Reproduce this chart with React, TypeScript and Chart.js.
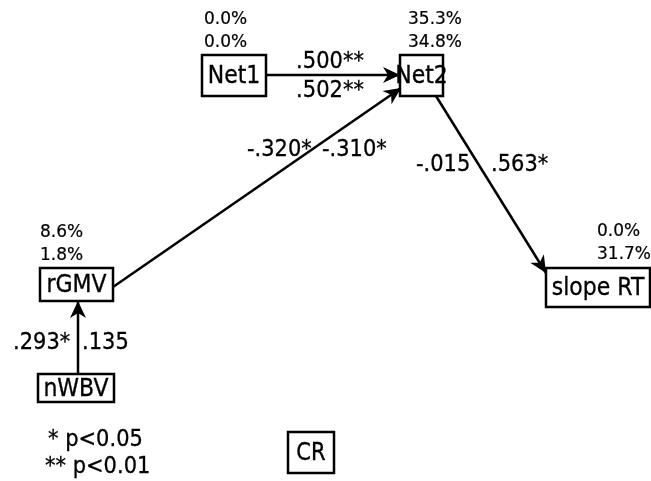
import React, { useEffect, useRef } from "react";
import { Chart, registerables } from "chart.js";

Chart.register(...registerables);

// ---- data ----
const nodeNames = ["Net1", "Net2", "rGMV", "nWBV", "slope RT"];
const r2First = ["0.0%", "35.3%", "8.6%", "", "0.0%"];
const r2Second = ["0.0%", "34.8%", "1.8%", "", "31.7%"];
const edgeFrom = ["Net1", "rGMV", "Net2", "nWBV"];
const edgeTo = ["Net2", "Net2", "slope RT", "rGMV"];
const coefFirst = [".500**", "-.320*", "-.015", ".293*"];
const coefSecond = [".502**", "-.310*", ".563*", ".135"];
const legendLines = ["* p<0.05", "** p<0.01"];
const groupLabel = "CR";

// ---- layout (pixel space of the figure) ----
const boxes: Record<string, [number, number, number, number]> = {
  Net1: [202, 55, 266, 96],
  Net2: [400, 55, 443, 96],
  rGMV: [40, 268, 113, 301],
  nWBV: [38, 374, 114, 402],
  "slope RT": [546, 268, 650, 307],
};
const edgeEnds: [number, number, number, number][] = [
  [266, 75, 400, 75],
  [113, 287, 401, 88],
  [436, 96, 546, 273],
  [78, 374, 78, 301],
];
const r2Pos: [number, number][] = [[204, 20], [408, 20], [40, 233], [0, 0], [597, 232]];
const coefPos: { a: [number, number, string]; b: [number, number, string] }[] = [
  { a: [330, 62, "center"], b: [330, 91, "center"] },
  { a: [247, 150, "left"], b: [322, 150, "left"] },
  { a: [416, 165, "left"], b: [491, 165, "left"] },
  { a: [13, 343, "left"], b: [82, 343, "left"] },
];
const legendPos: [number, number][] = [[48, 440], [45, 467]];
const crBox: [number, number, number, number] = [288, 432, 334, 473];

const FONT = "'DejaVu Sans', sans-serif";

function stretchText(ctx: CanvasRenderingContext2D, t: string, x: number, y: number, sy: number, bold = 0.3) {
  ctx.save();
  ctx.translate(x, y);
  ctx.scale(1, sy);
  ctx.fillText(t, 0, 0);
  if (bold > 0) {
    ctx.lineWidth = bold;
    ctx.strokeStyle = "#000";
    ctx.strokeText(t, 0, 0);
  }
  ctx.restore();
}

const diagramPlugin = {
  id: "diagram",
  afterDatasetsDraw(chart: any) {
    const ctx = chart.ctx as CanvasRenderingContext2D;
    const xs = chart.scales.x;
    const ys = chart.scales.y;
    const px = (v: number) => xs.getPixelForValue(v);
    const py = (v: number) => ys.getPixelForValue(v);
    ctx.save();
    ctx.strokeStyle = "#000";
    ctx.fillStyle = "#000";
    // boxes
    const drawBox = (b: [number, number, number, number], label: string, size: number) => {
      const x1 = px(b[0]), y1 = py(b[1]), x2 = px(b[2]), y2 = py(b[3]);
      ctx.fillStyle = "#fff";
      ctx.fillRect(x1, y1, x2 - x1, y2 - y1);
      ctx.lineWidth = 2.5;
      ctx.strokeStyle = "#000";
      ctx.strokeRect(x1, y1, x2 - x1, y2 - y1);
      ctx.fillStyle = "#000";
      ctx.font = `${size}px ${FONT}`;
      ctx.textAlign = "center";
      ctx.textBaseline = "middle";
      stretchText(ctx, label, (x1 + x2) / 2, (y1 + y2) / 2 + 1, 1.15);
    };
    nodeNames.forEach((n) => drawBox(boxes[n], n, 22));
    drawBox(crBox, groupLabel, 21);
    // arrowheads
    edgeEnds.forEach((e) => {
      const x1 = px(e[0]), y1 = py(e[1]), x2 = px(e[2]), y2 = py(e[3]);
      const ang = Math.atan2(y2 - y1, x2 - x1);
      const L = 17, W = 8, notch = 12;
      ctx.save();
      ctx.translate(x2, y2);
      ctx.rotate(ang);
      ctx.beginPath();
      ctx.moveTo(0, 0);
      ctx.lineTo(-L, -W);
      ctx.lineTo(-notch, 0);
      ctx.lineTo(-L, W);
      ctx.closePath();
      ctx.fillStyle = "#000";
      ctx.fill();
      ctx.restore();
    });
    // R2 labels
    ctx.font = `17px ${FONT}`;
    ctx.textAlign = "left";
    ctx.textBaseline = "middle";
    nodeNames.forEach((n, i) => {
      if (!r2First[i]) return;
      const p = r2Pos[i];
      stretchText(ctx, r2First[i], px(p[0]), py(p[1]), 1.0, 0.2);
      stretchText(ctx, r2Second[i], px(p[0]), py(p[1] + 23), 1.0, 0.2);
    });
    // coefficients
    ctx.font = `21px ${FONT}`;
    coefPos.forEach((c, i) => {
      ctx.textAlign = c.a[2] as CanvasTextAlign;
      stretchText(ctx, coefFirst[i], px(c.a[0]), py(c.a[1]), 1.1);
      ctx.textAlign = c.b[2] as CanvasTextAlign;
      stretchText(ctx, coefSecond[i], px(c.b[0]), py(c.b[1]), 1.1);
    });
    // legend
    ctx.font = `21px ${FONT}`;
    ctx.textAlign = "left";
    legendLines.forEach((t, i) => stretchText(ctx, t, px(legendPos[i][0]), py(legendPos[i][1]), 1.1));
    ctx.restore();
  },
};

export default function App() {
  const ref = useRef<HTMLCanvasElement | null>(null);
  useEffect(() => {
    if (!ref.current) return;
    const datasets = edgeFrom.map((f, i) => {
      const e = edgeEnds[i];
      return {
        label: `${f} → ${edgeTo[i]}`,
        data: [
          { x: e[0], y: e[1] },
          { x: e[2], y: e[3] },
        ],
        showLine: true,
        borderColor: "#000",
        borderWidth: 2.5,
        pointRadius: 0,
        fill: false,
      };
    });
    const chart = new Chart(ref.current, {
      type: "scatter",
      data: { datasets },
      options: {
        animation: false,
        responsive: false,
        layout: { padding: 0 },
        plugins: { legend: { display: false }, tooltip: { enabled: false } },
        scales: {
          x: { type: "linear", min: 0, max: 651, display: false },
          y: { type: "linear", min: 0, max: 481, reverse: true, display: false },
        },
      },
      plugins: [diagramPlugin],
    });
    return () => chart.destroy();
  }, []);
  return (
    <div style={{ position: "absolute", left: 0, top: 0, width: 651, height: 481, background: "#fff" }}>
      <canvas ref={ref} width={651} height={481} style={{ display: "block" }} />
    </div>
  );
}
